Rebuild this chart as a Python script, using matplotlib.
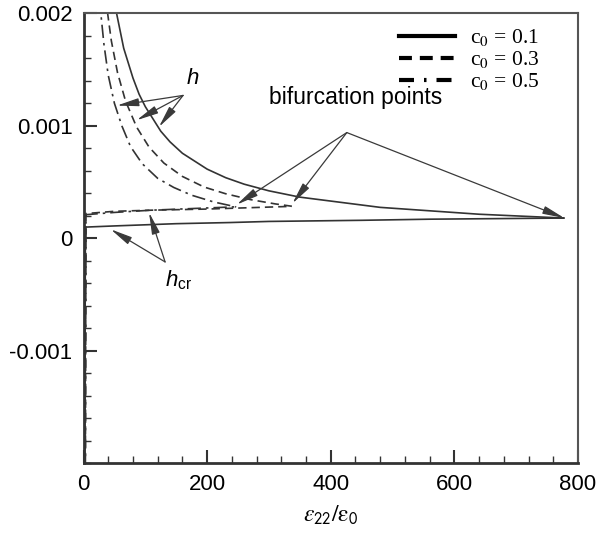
import matplotlib
matplotlib.use('Agg')
import matplotlib.pyplot as plt
from matplotlib.font_manager import FontProperties

plt.rcParams['font.family'] = ['Liberation Sans', 'DejaVu Sans']
plt.rcParams['mathtext.fontset'] = 'custom'
plt.rcParams['mathtext.rm'] = 'Liberation Sans'
plt.rcParams['mathtext.it'] = 'Liberation Sans:italic'

# upper branches (h)
h1_x = [47, 52, 65, 80, 90, 100, 125, 140, 160, 200, 230, 260, 300, 350, 480, 640, 777]
h1_y = [0.00225, 0.00204, 0.00169, 0.001425, 0.00128, 0.00117, 0.000952, 0.000857,
        0.000756, 0.000615, 0.000539, 0.000481, 0.000422, 0.000366, 0.000275,
        0.000214, 0.00018]
h3_x = [35, 39, 45, 55, 68, 86, 106, 130, 160, 195, 230, 270, 310, 337]
h3_y = [0.0022, 0.002, 0.001756, 0.001473, 0.00122, 0.000988, 0.000811, 0.000669,
        0.00055, 0.000456, 0.000396, 0.000344, 0.000306, 0.000285]
h5_x = [25, 28, 33, 40, 50, 62, 76, 95, 120, 146, 175, 210, 247]
h5_y = [0.0022, 0.002, 0.001727, 0.00145, 0.0012, 0.001, 0.000816, 0.000663,
        0.000533, 0.000452, 0.000383, 0.000324, 0.000279]

# lower branches (h_cr)
cr1_x = [2, 3, 5, 50, 150, 236, 300, 450, 561, 777]
cr1_y = [-0.0021, 0.0001, 0.0001, 0.00011, 0.00013, 0.00014, 0.00015,
         0.00016, 0.00017, 0.00018]
cr3_x = [3, 4, 50, 110, 200, 337]
cr3_y = [-0.0021, 0.00022, 0.00024, 0.00025, 0.00026, 0.000284]
cr5_x = [3, 4, 50, 110, 247]
cr5_y = [-0.0021, 0.00021, 0.00023, 0.00025, 0.00028]

labels = ['c$_0$ = 0.1', 'c$_0$ = 0.3', 'c$_0$ = 0.5']
xticks = [0, 200, 400, 600, 800]
yticks = [-0.001, 0, 0.001, 0.002]
ytick_labels = ['-0.001', '0', '0.001', '0.002']

col = '#333333'
ls_dash = (0, (5, 3))
ls_dashdot = (0, (8, 3, 1.5, 3))

fig = plt.figure(figsize=(6.03, 5.33), dpi=100)
ax = fig.add_axes([0.1385, 0.1308, 0.82, 0.8442])

ax.plot(h1_x, h1_y, color=col, lw=1.2, label=labels[0])
ax.plot(h3_x, h3_y, color=col, lw=1.2, ls=ls_dash, label=labels[1])
ax.plot(h5_x, h5_y, color=col, lw=1.2, ls=ls_dashdot, label=labels[2])
ax.plot(cr1_x, cr1_y, color=col, lw=1.2)
ax.plot(cr3_x, cr3_y, color=col, lw=1.2, ls=ls_dash)
ax.plot(cr5_x, cr5_y, color=col, lw=1.2, ls=ls_dashdot)

ax.set_xlim(0, 800)
ax.set_ylim(-0.002, 0.002)
ax.set_xticks(xticks)
ax.set_xticks(range(0, 801, 40), minor=True)
ax.set_yticks(yticks)
ax.set_yticklabels(ytick_labels)
ax.set_yticks([i * 0.0002 for i in range(-10, 11)], minor=True)
ax.tick_params(which='both', direction='in', top=False, right=False,
               labelsize=16, color='#333333', pad=8)
ax.tick_params(which='major', length=9.5, width=1.5)
ax.tick_params(which='minor', length=5, width=1)
for s in ['left', 'bottom']:
    ax.spines[s].set_linewidth(2)
    ax.spines[s].set_color('#333333')
for s in ['top', 'right']:
    ax.spines[s].set_linewidth(1.5)
    ax.spines[s].set_color('#555555')

ax.set_xlabel(r'$\varepsilon_{\mathsf{22}}/\mathrm{\varepsilon}_{\mathsf{0}}$',
              fontsize=17, math_fontfamily='stix', labelpad=6)

leg = ax.legend(loc='upper right', bbox_to_anchor=(0.95, 1.0), frameon=False,
                prop=FontProperties(family='Liberation Serif', size=15.5,
                                    math_fontfamily='stix'),
                handlelength=2.6, handletextpad=0.7, labelspacing=0.05,
                borderaxespad=0.25)
leg_styles = ['-', (0, (3.1, 1.9)), (0, (3.6, 2.4, 0.6, 2.4))]
for ln, st in zip(leg.get_lines(), leg_styles):
    ln.set_linewidth(3)
    ln.set_linestyle(st)
    ln.set_color('black')

arrow = dict(arrowstyle='-|>,head_width=0.22,head_length=1.2', color='#3a3a3a',
             lw=0.9, shrinkA=0, shrinkB=0, mutation_scale=11)

# h
ax.text(177, 0.00142, '$h$', fontsize=16, ha='center', va='center')
for tx, ty in [(54, 0.00118), (86, 0.00105), (122, 0.00099)]:
    ax.annotate('', xy=(tx, ty), xytext=(161, 0.00127), arrowprops=arrow)

# bifurcation points
ax.text(440, 0.00125, 'bifurcation points', fontsize=16.5, ha='center', va='center')
for tx, ty in [(778, 0.00018), (338, 0.00031), (248, 0.0003)]:
    ax.annotate('', xy=(tx, ty), xytext=(426, 0.00094), arrowprops=arrow)

# h_cr
ax.text(153, -0.00037, r'$h_{\mathrm{cr}}$', fontsize=16, ha='center', va='center')
for tx, ty in [(44, 0.00008), (106, 0.00023)]:
    ax.annotate('', xy=(tx, ty), xytext=(132, -0.00021), arrowprops=arrow)

fig.savefig('out.png', dpi=100)
